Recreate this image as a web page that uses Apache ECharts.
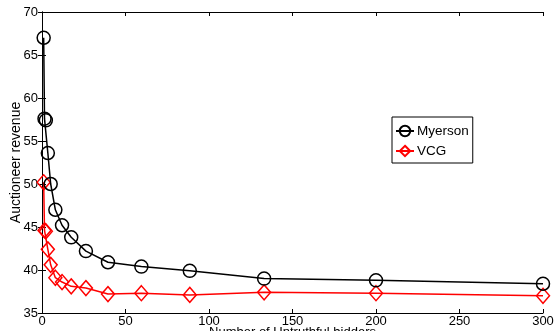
<!DOCTYPE html>
<html>
<head>
<meta charset="utf-8">
<script src="https://cdn.jsdelivr.net/npm/echarts@6/dist/echarts.min.js"></script>
<style>
html,body{margin:0;padding:0;background:#fff;}
#c{width:555px;height:331px;}
</style>
</head>
<body>
<div id="c"></div>
<script>
var bidders = [1, 1.5, 2.3, 3.5, 5.2, 8, 12, 17.5, 26.3, 39.5, 59.5, 88.5, 133, 200, 300];
var myerson = [67.0, 57.6, 57.4, 53.6, 50.0, 47.0, 45.2, 43.8, 42.2, 40.9, 40.4, 39.9, 39.0, 38.8, 38.4];
var vcg = [50.2, 44.6, 44.5, 42.4, 40.6, 39.1, 38.6, 38.1, 37.9, 37.2, 37.3, 37.1, 37.4, 37.3, 37.0];
var xTicks = [0, 50, 100, 150, 200, 250, 300];
var yTicks = [35, 40, 45, 50, 55, 60, 65, 70];

function pairs(xs, ys) { return xs.map(function (x, i) { return [x, ys[i]]; }); }

var font = 'Liberation Sans, Arial, sans-serif';
var chart = echarts.init(document.getElementById('c'), null, {renderer: 'canvas'});
var axisLine = {show: true, lineStyle: {color: '#000', width: 1}};
var tick = {show: true, inside: true, length: 4, lineStyle: {color: '#000'}};
chart.setOption({
  animation: false,
  backgroundColor: '#fff',
  grid: {left: 42, right: 12, top: 12, bottom: 18, containLabel: false, outerBoundsMode: 'none'},
  legend: {
    left: 392, top: 117, orient: 'vertical',
    backgroundColor: '#fff', borderColor: '#000', borderWidth: 1,
    padding: [7, 4, 5, 3], itemGap: 6, itemWidth: 18, itemHeight: 13,
    textStyle: {fontFamily: font, fontSize: 13.5, color: '#000', padding: [0, 0, 0, -2]},
    data: ['Myerson', 'VCG']
  },
  xAxis: [{
    type: 'value', min: 0, max: 300, interval: 50,
    name: 'Number of Untruthful bidders', nameLocation: 'middle', nameGap: 13,
    nameMoveOverlap: false,
    nameTextStyle: {fontFamily: font, fontSize: 13, color: '#000', verticalAlign: 'top'},
    axisLine: axisLine, axisTick: tick, splitLine: {show: false},
    axisLabel: {fontFamily: font, fontSize: 13, color: '#000', margin: 2,
      formatter: function (v) { return xTicks.indexOf(v) >= 0 ? String(v) : ''; }}
  }, {
    type: 'value', min: 0, max: 300, interval: 50, position: 'top',
    axisLine: axisLine, axisTick: tick, axisLabel: {show: false}, splitLine: {show: false}
  }],
  yAxis: [{
    type: 'value', min: 35, max: 70, interval: 5,
    name: 'Auctioneer revenue', nameLocation: 'middle', nameGap: 19, nameRotate: 90,
    nameMoveOverlap: false,
    nameTextStyle: {fontFamily: font, fontSize: 14, color: '#000'},
    axisLine: axisLine, axisTick: tick, splitLine: {show: false},
    axisLabel: {fontFamily: font, fontSize: 13, color: '#000', margin: 4,
      formatter: function (v) { return yTicks.indexOf(v) >= 0 ? String(v) : ''; }}
  }, {
    type: 'value', min: 35, max: 70, interval: 5, position: 'right',
    axisLine: axisLine, axisTick: tick, axisLabel: {show: false}, splitLine: {show: false}
  }],
  series: [{
    name: 'Myerson', type: 'line', data: pairs(bidders, myerson),
    symbol: 'circle', symbolSize: 13,
    lineStyle: {color: '#000', width: 1.5},
    itemStyle: {color: 'rgba(0,0,0,0)', borderColor: '#000', borderWidth: 1.5},
    z: 3
  }, {
    name: 'VCG', type: 'line', data: pairs(bidders, vcg),
    symbol: 'diamond', symbolSize: [13, 15],
    lineStyle: {color: '#f00', width: 1.5},
    itemStyle: {color: 'rgba(0,0,0,0)', borderColor: '#f00', borderWidth: 1.5},
    z: 2
  }]
});
</script>
</body>
</html>
